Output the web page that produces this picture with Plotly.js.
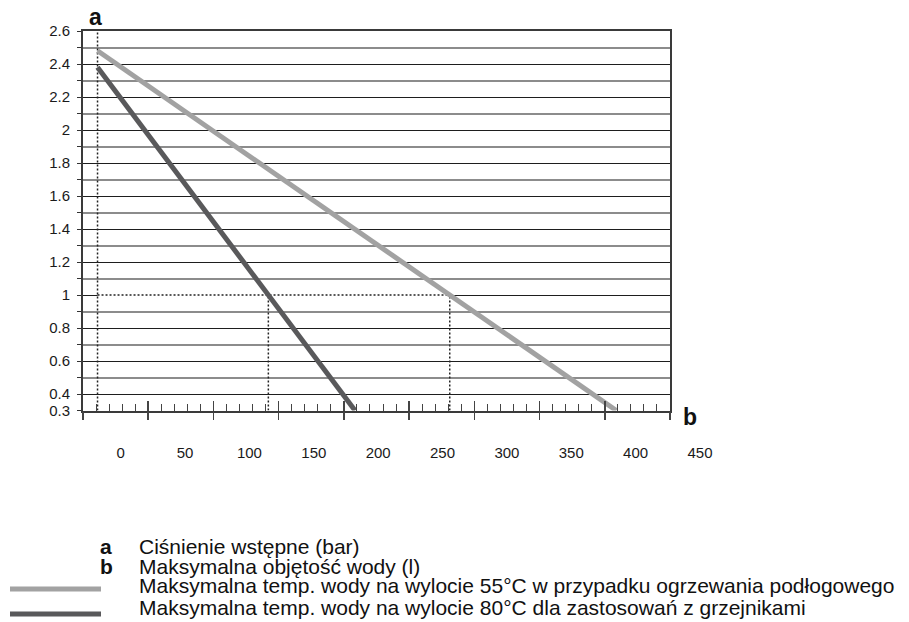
<!DOCTYPE html>
<html><head><meta charset="utf-8">
<script src="https://cdn.plot.ly/plotly-3.0.1.min.js"></script>
<style>body{margin:0;background:#fff}</style>
</head><body><div id="chart" style="width:909px;height:622px"></div>
<script>
// ---- data ----
const pressureTicks = [0.3, 0.4, 0.6, 0.8, 1, 1.2, 1.4, 1.6, 1.8, 2, 2.2, 2.4, 2.6];
const pressureTickText = ['0.3', '0.4', '0.6', '0.8', '1', '1.2', '1.4', '1.6', '1.8', '2', '2.2', '2.4', '2.6'];
const pressureMinorTicks = [0.5, 0.7, 0.9, 1.1, 1.3, 1.5, 1.7, 1.9, 2.1, 2.3, 2.5];
const volumeTicks = [0, 50, 100, 150, 200, 250, 300, 350, 400, 450];
const volume55 = [-18, 385];
const pressure55 = [2.48, 0.3];
const volume80 = [-18, 182];
const pressure80 = [2.38, 0.3];
const referencePressure = 1;
const axisLetterY = 'a';
const axisLetterX = 'b';
const legendLetters = ['a', 'b'];
const legendTexts = ['Ciśnienie wstępne (bar)', 'Maksymalna objętość wody (l)'];
const seriesNames = [
  'Maksymalna temp. wody na wylocie 55°C w przypadku ogrzewania podłogowego',
  'Maksymalna temp. wody na wylocie 80°C dla zastosowań z grzejnikami'
];

// ---- geometry helpers (layout only) ----
const W = 909, H = 622;
const L = 83, R = 720, T = 31, B = 442;          // paper plot area in px
const plotRight = 670, axisBottom = 410.5;
const pxPerUnit = 579.3 / 450;
const xMin = -(120.7 - L) / pxPerUnit;
const xMaxMain = xMin + (plotRight - L) / pxPerUnit;
const xMaxLabel = xMin + (R - L) / pxPerUnit;
const yRange = [0.3, 2.6];
const fx = p => (p - L) / (R - L);
const fy = p => (B - p) / (B - T);

function crossing(xs, ys, level) {
  for (let i = 0; i < xs.length - 1; i++) {
    const y0 = ys[i], y1 = ys[i + 1];
    if ((y0 - level) * (y1 - level) <= 0) {
      return xs[i] + (level - y0) / (y1 - y0) * (xs[i + 1] - xs[i]);
    }
  }
  return null;
}
const cross55 = crossing(volume55, pressure55, referencePressure);
const cross80 = crossing(volume80, pressure80, referencePressure);
const startVol = volume55[0];

const FONT = 'Liberation Sans, Arial, sans-serif';
const col55 = '#a2a2a2', col80 = '#59595b';
const dotted = {color: '#222', width: 1.5, dash: '2px,2px'};

const traces = [
  {x: [startVol, cross55], y: [referencePressure, referencePressure], mode: 'lines', line: {color: '#fff', width: 3}, hoverinfo: 'skip'},
  {x: [startVol, cross55], y: [referencePressure, referencePressure], mode: 'lines', line: dotted, hoverinfo: 'skip'},
  {x: [startVol, startVol], y: yRange, mode: 'lines', line: dotted, hoverinfo: 'skip'},
  {x: [cross80, cross80], y: [yRange[0], referencePressure], mode: 'lines', line: dotted, hoverinfo: 'skip'},
  {x: [cross55, cross55], y: [yRange[0], referencePressure], mode: 'lines', line: dotted, hoverinfo: 'skip'},
  {x: volume55, y: pressure55, mode: 'lines', name: seriesNames[0], line: {color: col55, width: 5}},
  {x: volume80, y: pressure80, mode: 'lines', name: seriesNames[1], line: {color: col80, width: 5}},
  // empty traces that only bind the helper axes to subplots
  {x: [], y: [], xaxis: 'x3', yaxis: 'y', mode: 'lines', hoverinfo: 'skip'},
  {x: [], y: [], xaxis: 'x4', yaxis: 'y', mode: 'lines', hoverinfo: 'skip'},
  {x: [], y: [], xaxis: 'x2', yaxis: 'y2', mode: 'lines', hoverinfo: 'skip'}
];

const mainDomainX = [0, (plotRight - L) / (R - L)];
const mainDomainY = [(B - axisBottom) / (B - T), 1];

const tickFont = {family: FONT, size: 15, color: '#1a1a1a'};
const legendFont = {family: FONT, size: 21, color: '#111'};
const layout = {
  width: W, height: H,
  margin: {l: L, r: W - R, t: T, b: H - B, pad: 0},
  paper_bgcolor: '#fff', plot_bgcolor: 'rgba(0,0,0,0)',
  showlegend: false,
  xaxis: {type: 'linear', domain: mainDomainX, range: [xMin, xMaxMain], anchor: 'y',
    showgrid: false, zeroline: false, showticklabels: false, ticks: '',
    showline: true, linecolor: '#3a3a3a', linewidth: 2, mirror: true, fixedrange: true},
  xaxis3: {type: 'linear', overlaying: 'x', anchor: 'y', range: [0, 9], autorange: false, tickmode: 'linear', tick0: 0, dtick: 1,
    ticks: 'outside', ticklen: 8, tickwidth: 1.5, tickcolor: '#444',
    showticklabels: false, showgrid: false, zeroline: false, showline: false},
  xaxis4: {type: 'linear', overlaying: 'x', anchor: 'y', range: [0, 9], autorange: false, tickmode: 'linear', tick0: 0, dtick: 1,
    ticks: 'inside', ticklen: 10, tickwidth: 1.5, tickcolor: '#444',
    minor: {ticks: 'inside', ticklen: 7, tickwidth: 1, tickcolor: '#444', dtick: 0.2, tick0: 0, showgrid: false},
    showticklabels: false, showgrid: false, zeroline: false, showline: false},
  xaxis2: {type: 'linear', domain: [0, 1], anchor: 'y2', range: [xMin, xMaxLabel], autorange: false,
    tickmode: 'array', tickvals: volumeTicks, ticktext: volumeTicks.map(String),
    ticks: '', showgrid: false, zeroline: false, showline: false, tickfont: tickFont},
  yaxis2: {type: 'linear', domain: [0, 1], anchor: 'x2', range: [0, 1], autorange: false,
    showgrid: false, zeroline: false, showline: false, showticklabels: false, ticks: ''},
  yaxis: {type: 'linear', domain: mainDomainY, range: yRange, anchor: 'x',
    tickmode: 'array', tickvals: pressureTicks, ticktext: pressureTickText,
    ticks: 'outside', ticklen: 4, tickwidth: 1, tickcolor: '#333',
    showgrid: true, gridcolor: '#1e1e1e', gridwidth: 1,
    minor: {tickmode: 'array', tickvals: pressureMinorTicks, ticks: 'outside', ticklen: 4, tickwidth: 1, tickcolor: '#333',
      showgrid: true, gridcolor: '#8c8c8c', gridwidth: 2},
    zeroline: false, showline: true, linecolor: '#3a3a3a', linewidth: 2, mirror: true,
    tickfont: tickFont, ticklabelstandoff: 4},
  shapes: [
    {type: 'line', xref: 'paper', yref: 'paper', x0: fx(10), x1: fx(101), y0: fy(589), y1: fy(589), line: {color: col55, width: 5}},
    {type: 'line', xref: 'paper', yref: 'paper', x0: fx(10), x1: fx(101), y0: fy(614), y1: fy(614), line: {color: col80, width: 5}}
  ],
  annotations: [
    {text: '<b>' + axisLetterY + '</b>', xref: 'paper', yref: 'paper', x: fx(95), y: fy(17), xanchor: 'center', yanchor: 'middle', showarrow: false, font: {family: FONT, size: 23, color: '#111'}},
    {text: '<b>' + axisLetterX + '</b>', xref: 'paper', yref: 'paper', x: fx(690), y: fy(417), xanchor: 'center', yanchor: 'middle', showarrow: false, font: {family: FONT, size: 23, color: '#111'}},
    {text: '<b>' + legendLetters[0] + '</b>', xref: 'paper', yref: 'paper', x: fx(98), y: fy(546), xanchor: 'left', yanchor: 'middle', showarrow: false, font: legendFont},
    {text: legendTexts[0], xref: 'paper', yref: 'paper', x: fx(137), y: fy(546), xanchor: 'left', yanchor: 'middle', showarrow: false, font: legendFont},
    {text: '<b>' + legendLetters[1] + '</b>', xref: 'paper', yref: 'paper', x: fx(98), y: fy(566), xanchor: 'left', yanchor: 'middle', showarrow: false, font: legendFont},
    {text: legendTexts[1], xref: 'paper', yref: 'paper', x: fx(137), y: fy(566), xanchor: 'left', yanchor: 'middle', showarrow: false, font: legendFont},
    {text: seriesNames[0], xref: 'paper', yref: 'paper', x: fx(137), y: fy(585), xanchor: 'left', yanchor: 'middle', showarrow: false, font: legendFont},
    {text: seriesNames[1], xref: 'paper', yref: 'paper', x: fx(137), y: fy(607), xanchor: 'left', yanchor: 'middle', showarrow: false, font: legendFont}
  ]
};

Plotly.newPlot('chart', traces, layout, {displayModeBar: false, staticPlot: true});
</script>
</body></html>
